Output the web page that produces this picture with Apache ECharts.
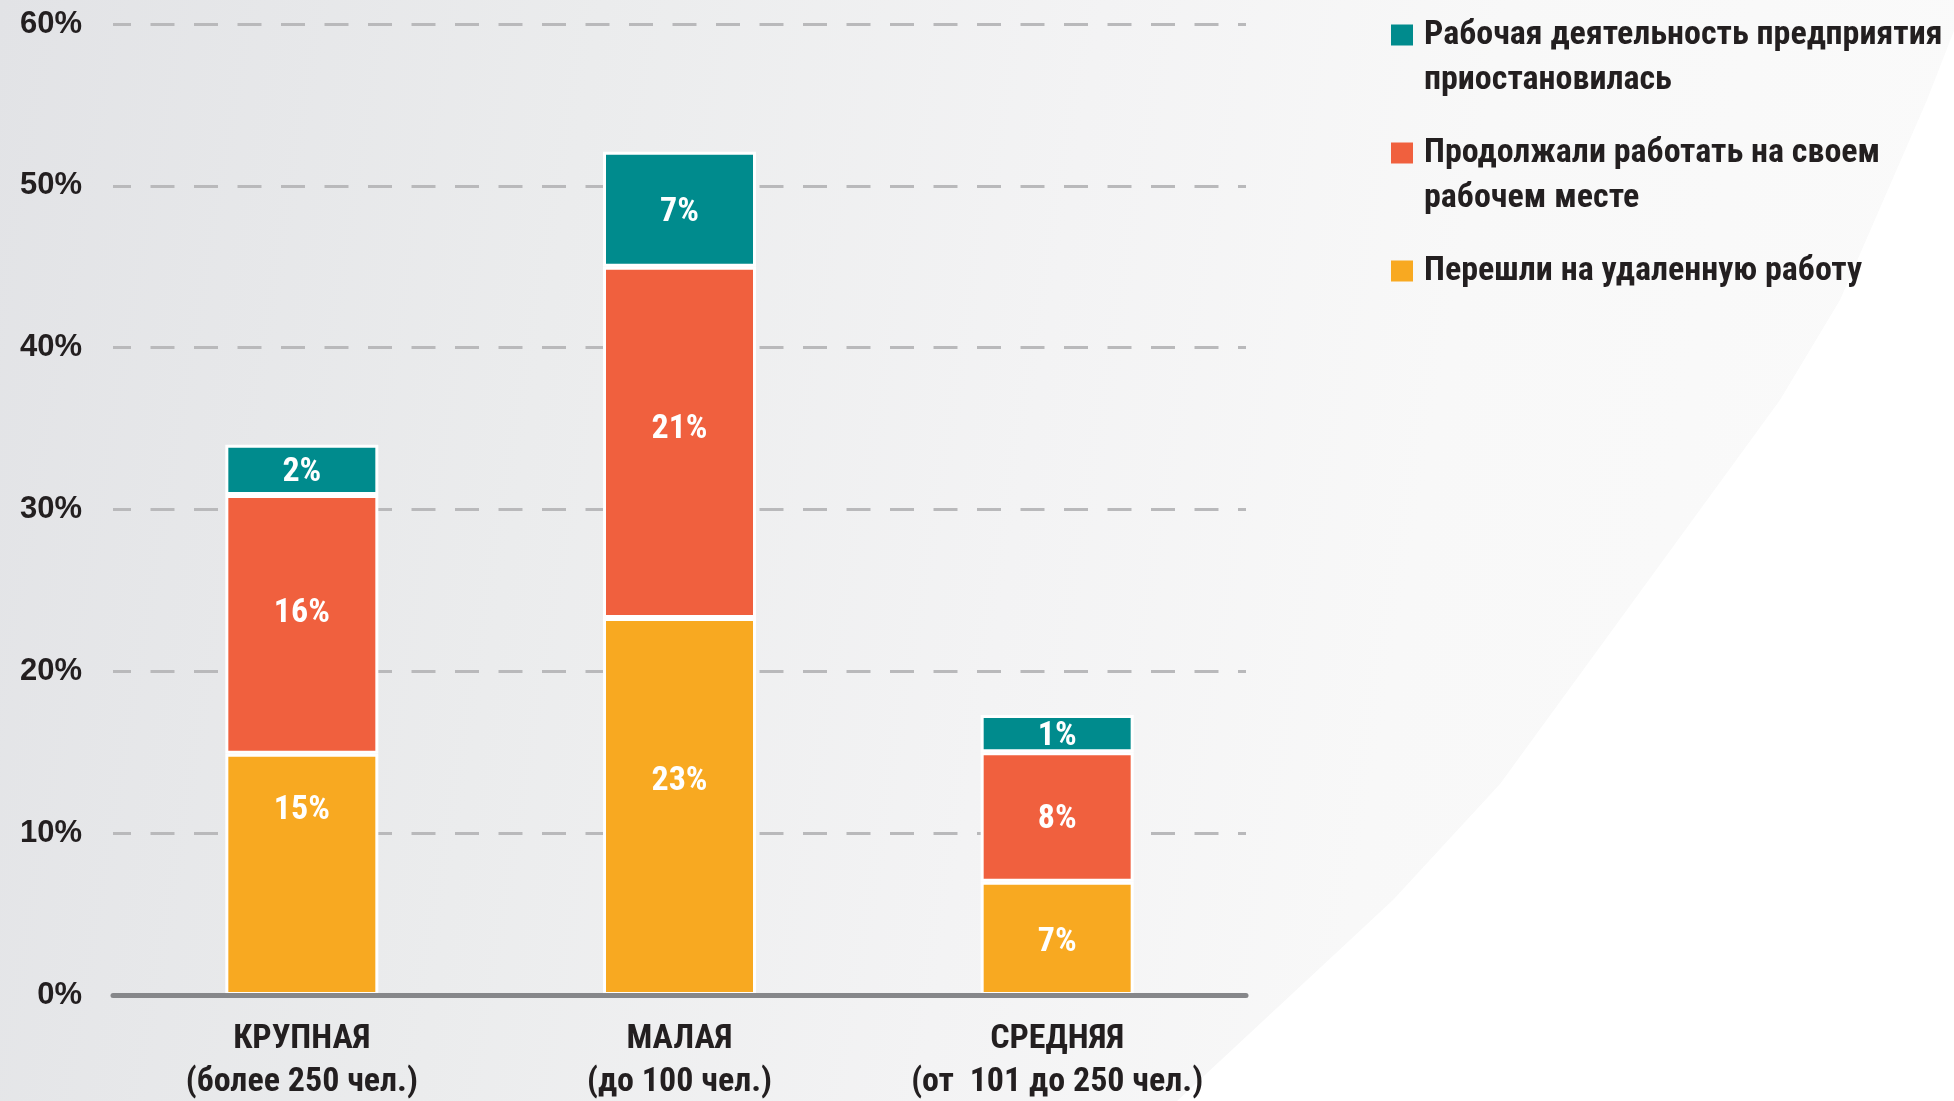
<!DOCTYPE html>
<html>
<head>
<meta charset="utf-8">
<script src="https://cdn.jsdelivr.net/npm/echarts@6/dist/echarts.min.js"></script>
<style>
  html, body { margin: 0; padding: 0; }
  #chart { width: 1954px; height: 1101px; }
</style>
</head>
<body>
<div id="chart"></div>
<script>
// категории (размер предприятия)
const categories = ['КРУПНАЯ\n(более 250 чел.)', 'МАЛАЯ\n(до 100 чел.)', 'СРЕДНЯЯ\n(от  101 до 250 чел.)']
const seriesNames = [
  'Перешли на удаленную работу',
  'Продолжали работать на своем\nрабочем месте',
  'Рабочая деятельность предприятия\nприостановилась'
]
// высоты столбцов, как они нарисованы на картинке (%)
const remoteValues = [14.9, 23.3, 7.0]
const workplaceValues = [16.0, 21.7, 8.0]
const suspendedValues = [3.1, 7.1, 2.3]
// подписи на столбцах
const remoteLabels = ['15%', '23%', '7%']
const workplaceLabels = ['16%', '21%', '8%']
const suspendedLabels = ['2%', '7%', '1%']
const yTicks = [0, 10, 20, 30, 40, 50, 60]

const colors = ['#f8a921', '#f0603e', '#008b8d']
const narrow = "'Roboto Condensed', 'Open Sans Condensed', sans-serif"
const textColor = '#231f20'
// подписи в оригинале сдвинуты вручную
const remoteLabelShift = [-64, -25, 4]
const workplaceLabelShift = [-11, -13, 3]
const suspendedLabelShift = [3, 3, 3]

let myChart = echarts.init(document.getElementById('chart'))

function barSeries (idx, values, labels, shift) {
  return {
    name: seriesNames[idx],
    type: 'bar',
    stack: 'total',
    barWidth: 153,
    itemStyle: { color: colors[idx], borderColor: '#ffffff', borderWidth: 3 },
    label: {
      show: true,
      position: 'inside',
      color: '#ffffff',
      fontFamily: narrow,
      fontWeight: 'bold',
      fontSize: 34,
      formatter: p => labels[p.dataIndex]
    },
    data: values.map((v, i) => ({ value: v, label: { offset: [0, shift[i]] } }))
  }
}

let rich = {
  sp: { width: 11, lineHeight: 45 },
  ind: { width: 33, lineHeight: 45 },
  t: { fontFamily: narrow, fontWeight: 'bold', fontSize: 34, color: textColor, lineHeight: 45 }
}
colors.forEach((c, i) => {
  rich['sq' + i] = { width: 22, height: 21, backgroundColor: c, lineHeight: 45 }
})

myChart.setOption({
  backgroundColor: {
    type: 'linear', x: 0, y: 0, x2: 1, y2: 0.3,
    colorStops: [
      { offset: 0, color: '#e2e3e6' },
      { offset: 0.3, color: '#ebeced' },
      { offset: 0.55, color: '#f3f3f4' },
      { offset: 0.75, color: '#f8f8f8' },
      { offset: 1, color: '#fafafa' }
    ]
  },
  // белая дуга справа снизу (фон)
  graphic: [{
    type: 'polygon',
    z: -100,
    silent: true,
    shape: {
      points: [[1966, 0], [1927, 100], [1840, 300], [1780, 400], [1640, 592], [1500, 784],
        [1393, 900], [1177, 1101], [1954, 1101]]
    },
    style: { fill: '#ffffff' }
  }],
  animation: false,
  grid: { left: 113, top: 24, width: 1133, height: 971, outerBoundsMode: 'none' },
  legend: {
    orient: 'vertical',
    left: 1385,
    top: 18,
    padding: 0,
    itemGap: 39,
    itemWidth: 0,
    itemHeight: 0,
    selectedMode: false,
    data: [seriesNames[2], seriesNames[1], seriesNames[0]],
    formatter: name => {
      let i = seriesNames.indexOf(name)
      return name.split('\n').map((line, k) => (k === 0 ? `{sq${i}|}{sp|}` : '{ind|}') + `{t|${line}}`).join('\n')
    },
    textStyle: { rich: rich }
  },
  xAxis: {
    type: 'category',
    data: categories,
    z: 10,
    axisLine: { lineStyle: { color: '#86878a', width: 5, cap: 'round' } },
    axisTick: { show: false },
    axisLabel: {
      interval: 0,
      margin: 23,
      color: textColor,
      fontFamily: narrow,
      fontWeight: 'bold',
      fontSize: 34,
      lineHeight: 43
    }
  },
  yAxis: {
    type: 'value',
    min: yTicks[0],
    max: yTicks[yTicks.length - 1],
    interval: yTicks[1] - yTicks[0],
    axisLine: { show: false },
    axisTick: { show: false },
    axisLabel: {
      margin: 31,
      formatter: '{value}%',
      color: textColor,
      fontFamily: "'Liberation Sans', Arial, sans-serif",
      fontWeight: 'bold',
      fontSize: 31
    },
    splitLine: {
      lineStyle: { color: '#b9b9bb', width: 3, type: [24, 19.5], dashOffset: 6 }
    }
  },
  series: [
    barSeries(0, remoteValues, remoteLabels, remoteLabelShift),
    barSeries(1, workplaceValues, workplaceLabels, workplaceLabelShift),
    barSeries(2, suspendedValues, suspendedLabels, suspendedLabelShift)
  ]
})

window.addEventListener('resize', () => {
  myChart.resize()
})
</script>
</body>
</html>
